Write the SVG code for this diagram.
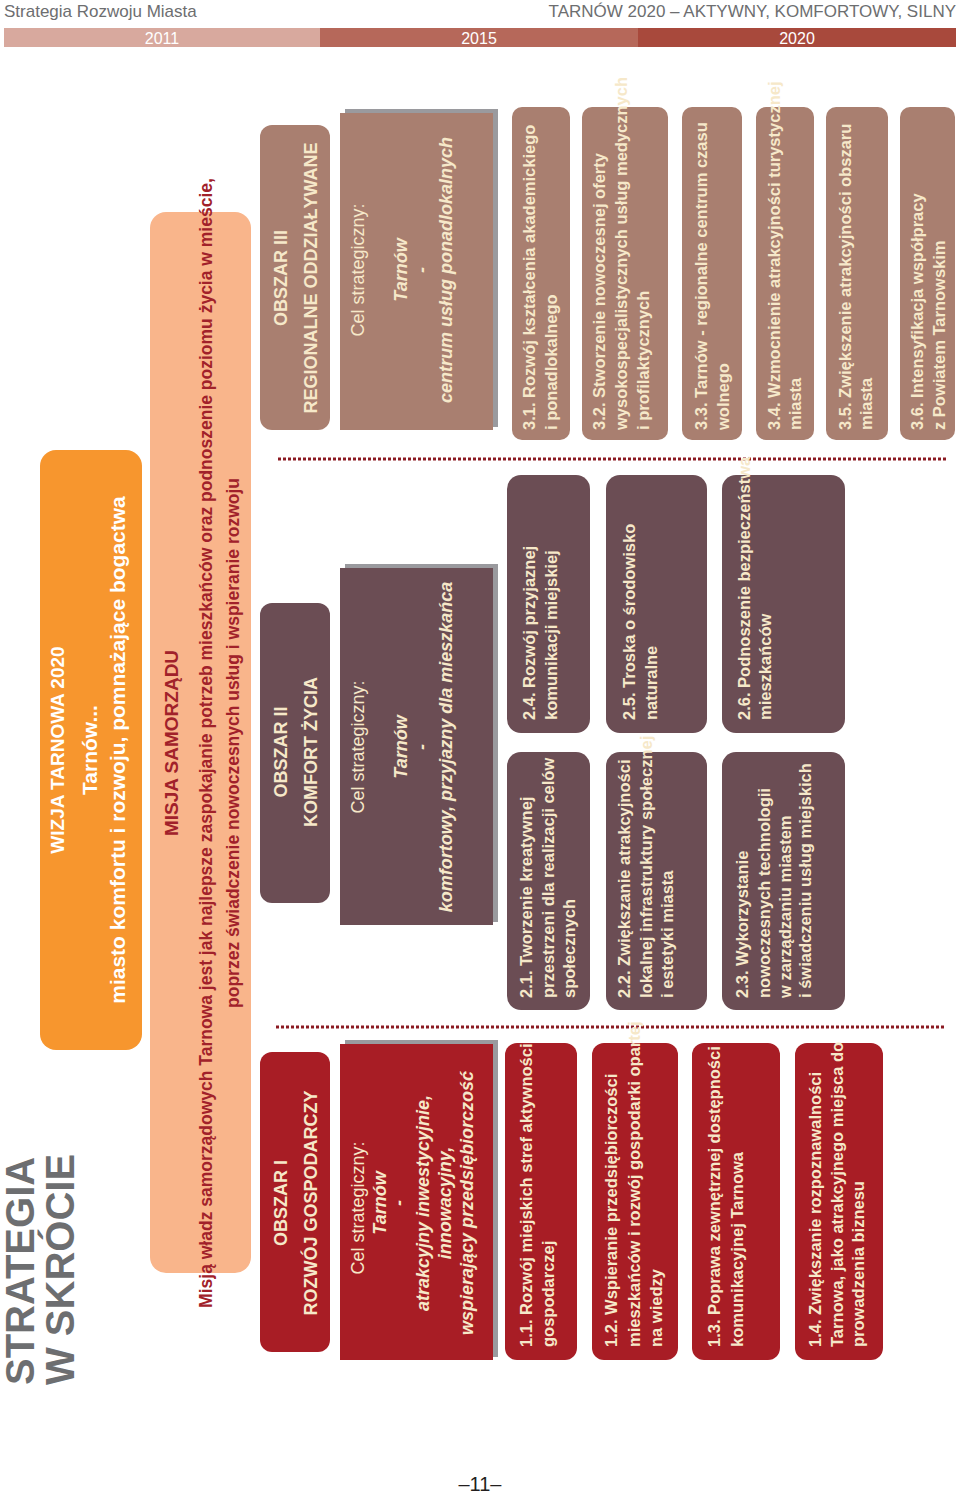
<svg xmlns="http://www.w3.org/2000/svg" width="960" height="1494" viewBox="0 0 960 1494">
<style>
text{font-family:"Liberation Sans Narrow","Liberation Sans",Arial,sans-serif;}
.hd{font-size:17px;fill:#6d6e70}
.yr{font-size:16px;fill:#fff;text-anchor:middle}
.c{fill:#f6e8c9}
.t{fill:#f6e8c9;font-weight:bold;font-size:16.5px}
.ob{fill:#f6e8c9;font-weight:bold;font-size:18px;text-anchor:middle}
.cel{fill:#f6e8c9;font-size:18px;text-anchor:middle}
.celb{fill:#f6e8c9;font-size:18px;font-weight:bold;font-style:italic;text-anchor:middle}
.red{fill:#a81d25}.mv{fill:#6b4d54}.br{fill:#a97f70}
.sh{fill:#9a9a9e}
.dot{stroke:#8b1a22;stroke-width:3;stroke-dasharray:3 2;fill:none}
</style>
<!-- header -->
<text class="hd" x="4" y="17">Strategia Rozwoju Miasta</text>
<text class="hd" x="956" y="17" text-anchor="end">TARNÓW 2020 – AKTYWNY, KOMFORTOWY, SILNY</text>
<rect x="4" y="28" width="316" height="19" fill="#d8a99e"/>
<rect x="320" y="28" width="318" height="19" fill="#b6685a"/>
<rect x="638" y="28" width="318" height="19" fill="#a8493c"/>
<text class="yr" x="162" y="44">2011</text>
<text class="yr" x="479" y="44">2015</text>
<text class="yr" x="797" y="44">2020</text>
<!-- title -->
<g transform="translate(0,1385) rotate(-90)" font-weight="bold" font-size="40" fill="#6d6e70">
<text x="0" y="34" style="fill:#6d6e70">STRATEGIA</text>
<text x="0" y="74" style="fill:#6d6e70">W SKRÓCIE</text>
</g>
<text x="480" y="1491" text-anchor="middle" font-size="20" style="fill:#231f20;font-family:'Liberation Sans',sans-serif">–11–</text>

<g id="wizja">
<rect x="40" y="450" width="102" height="600" rx="16" fill="#f7962e"/>
<g transform="translate(0,750) rotate(-90)" fill="#fff" font-weight="bold" text-anchor="middle">
<text x="0" y="64" font-size="19" style="fill:#fff">WIZJA TARNOWA 2020</text>
<text x="0" y="97" font-size="21" style="fill:#fff">Tarnów...</text>
<text x="0" y="125" font-size="21" style="fill:#fff">miasto komfortu i rozwoju, pomnażające bogactwa</text>
</g>
</g>
<g id="misja">
<rect x="150" y="212" width="101" height="1061" rx="16" fill="#f9b58b"/>
<g transform="translate(0,743) rotate(-90)" font-weight="bold" text-anchor="middle">
<text x="0" y="178" font-size="19" style="fill:#a1212a">MISJA SAMORZĄDU</text>
<text x="0" y="212" font-size="17.5" style="fill:#a1212a">Misją władz samorządowych Tarnowa jest jak najlepsze zaspokajanie potrzeb mieszkańców oraz podnoszenie poziomu życia w mieście,</text>
<text x="0" y="239" font-size="17.5" style="fill:#a1212a">poprzez świadczenie nowoczesnych usług i wspieranie rozwoju</text>
</g>
</g>

<g id="connectors">
<line class="dot" x1="276" y1="1027" x2="946" y2="1027"/>
<line class="dot" x1="278" y1="459" x2="946" y2="459"/>
</g>

<!-- Column I -->
<g id="obszar1">
<rect class="red" x="260" y="1052" width="70" height="300" rx="12"/>
<g transform="translate(0,1203) rotate(-90)"><text class="ob" x="0" y="287">OBSZAR I</text><text class="ob" x="0" y="317">ROZWÓJ GOSPODARCZY</text></g>
</g>
<g id="cel1">
<rect class="sh" x="345" y="1040" width="153" height="317"/>
<rect class="red" x="340" y="1044" width="153" height="316"/>
<g transform="translate(0,1203) rotate(-90)">
<text class="cel" x="-5" y="364">Cel strategiczny:</text>
<text class="celb" x="0" y="386">Tarnów</text>
<text class="celb" x="0" y="405">-</text>
<text class="celb" x="0" y="429">atrakcyjny inwestycyjnie,</text>
<text class="celb" x="0" y="451">innowacyjny,</text>
<text class="celb" x="0" y="473">wspierający przedsiębiorczość</text>
</g>
</g>
<g id="i11"><rect class="red" x="505" y="1043" width="72" height="317" rx="12"/>
<g transform="translate(0,1347) rotate(-90)"><text class="t" y="532">1.1. Rozwój miejskich stref aktywności</text><text class="t" y="554">gospodarczej</text></g></g>
<g id="i12"><rect class="red" x="592" y="1043" width="86" height="317" rx="12"/>
<g transform="translate(0,1347) rotate(-90)"><text class="t" y="617">1.2. Wspieranie przedsiębiorczości</text><text class="t" y="640">mieszkańców i rozwój gospodarki opartej</text><text class="t" y="662">na wiedzy</text></g></g>
<g id="i13"><rect class="red" x="692" y="1043" width="88" height="317" rx="12"/>
<g transform="translate(0,1347) rotate(-90)"><text class="t" y="720">1.3. Poprawa zewnętrznej dostępności</text><text class="t" y="743">komunikacyjnej Tarnowa</text></g></g>
<g id="i14"><rect class="red" x="795" y="1043" width="88" height="317" rx="12"/>
<g transform="translate(0,1347) rotate(-90)"><text class="t" y="821">1.4. Zwiększanie rozpoznawalności</text><text class="t" y="843">Tarnowa, jako atrakcyjnego miejsca do</text><text class="t" y="864">prowadzenia biznesu</text></g></g>

<!-- Column II -->
<g id="obszar2">
<rect class="mv" x="260" y="603" width="70" height="300" rx="12"/>
<g transform="translate(0,752) rotate(-90)"><text class="ob" x="0" y="287">OBSZAR II</text><text class="ob" x="0" y="317">KOMFORT ŻYCIA</text></g>
</g>
<g id="cel2">
<rect class="sh" x="345" y="564" width="153" height="358"/>
<rect class="mv" x="340" y="568" width="153" height="357"/>
<g transform="translate(0,747) rotate(-90)">
<text class="cel" x="0" y="364">Cel strategiczny:</text>
<text class="celb" x="0" y="407">Tarnów</text>
<text class="celb" x="0" y="428">-</text>
<text class="celb" x="0" y="452">komfortowy, przyjazny dla mieszkańca</text>
</g>
</g>
<g id="i21"><rect class="mv" x="507" y="752" width="83" height="258" rx="14"/>
<g transform="translate(0,998) rotate(-90)"><text class="t" y="532">2.1. Tworzenie kreatywnej</text><text class="t" y="554">przestrzeni dla realizacji celów</text><text class="t" y="575">społecznych</text></g></g>
<g id="i24"><rect class="mv" x="507" y="475" width="83" height="258" rx="14"/>
<g transform="translate(0,720) rotate(-90)"><text class="t" y="535">2.4. Rozwój przyjaznej</text><text class="t" y="557">komunikacji miejskiej</text></g></g>
<g id="i22"><rect class="mv" x="606" y="752" width="101" height="258" rx="14"/>
<g transform="translate(0,998) rotate(-90)"><text class="t" y="630">2.2. Zwiększanie atrakcyjności</text><text class="t" y="652">lokalnej infrastruktury społecznej</text><text class="t" y="673">i estetyki miasta</text></g></g>
<g id="i25"><rect class="mv" x="606" y="475" width="101" height="258" rx="14"/>
<g transform="translate(0,720) rotate(-90)"><text class="t" y="635">2.5. Troska o środowisko</text><text class="t" y="657">naturalne</text></g></g>
<g id="i23"><rect class="mv" x="722" y="752" width="123" height="258" rx="14"/>
<g transform="translate(0,998) rotate(-90)"><text class="t" y="748">2.3. Wykorzystanie</text><text class="t" y="770">nowoczesnych technologii</text><text class="t" y="791">w zarządzaniu miastem</text><text class="t" y="811">i świadczeniu usług miejskich</text></g></g>
<g id="i26"><rect class="mv" x="722" y="475" width="123" height="258" rx="14"/>
<g transform="translate(0,720) rotate(-90)"><text class="t" y="750">2.6. Podnoszenie bezpieczeństwa</text><text class="t" y="771">mieszkańców</text></g></g>

<!-- Column III -->
<g id="obszar3">
<rect class="br" x="260" y="125" width="70" height="305" rx="12"/>
<g transform="translate(0,278) rotate(-90)"><text class="ob" x="0" y="287">OBSZAR III</text><text class="ob" x="0" y="317">REGIONALNE ODDZIAŁYWANE</text></g>
</g>
<g id="cel3">
<rect class="sh" x="345" y="109" width="153" height="318"/>
<rect class="br" x="340" y="113" width="153" height="317"/>
<g transform="translate(0,270) rotate(-90)">
<text class="cel" x="0" y="364">Cel strategiczny:</text>
<text class="celb" x="0" y="407">Tarnów</text>
<text class="celb" x="0" y="428">-</text>
<text class="celb" x="0" y="452">centrum usług ponadlokalnych</text>
</g>
</g>
<g id="i31"><rect class="br" x="512" y="107" width="58" height="333" rx="10"/>
<g transform="translate(0,430) rotate(-90)"><text class="t" y="535">3.1. Rozwój kształcenia akademickiego</text><text class="t" y="557">i ponadlokalnego</text></g></g>
<g id="i32"><rect class="br" x="582" y="107" width="86" height="333" rx="10"/>
<g transform="translate(0,430) rotate(-90)"><text class="t" y="605">3.2. Stworzenie nowoczesnej oferty</text><text class="t" y="627">wysokospecjalistycznych usług medycznych</text><text class="t" y="649">i profilaktycznych</text></g></g>
<g id="i33"><rect class="br" x="682" y="107" width="60" height="333" rx="10"/>
<g transform="translate(0,430) rotate(-90)"><text class="t" y="707">3.3. Tarnów - regionalne centrum czasu</text><text class="t" y="729">wolnego</text></g></g>
<g id="i34"><rect class="br" x="756" y="107" width="58" height="333" rx="10"/>
<g transform="translate(0,430) rotate(-90)"><text class="t" y="780">3.4. Wzmocnienie atrakcyjności turystycznej</text><text class="t" y="801">miasta</text></g></g>
<g id="i35"><rect class="br" x="826" y="107" width="62" height="333" rx="10"/>
<g transform="translate(0,430) rotate(-90)"><text class="t" y="851">3.5. Zwiększenie atrakcyjności obszaru</text><text class="t" y="872">miasta</text></g></g>
<g id="i36"><rect class="br" x="900" y="107" width="55" height="333" rx="10"/>
<g transform="translate(0,430) rotate(-90)"><text class="t" y="923">3.6. Intensyfikacja współpracy</text><text class="t" y="945">z Powiatem Tarnowskim</text></g></g>
</svg>
